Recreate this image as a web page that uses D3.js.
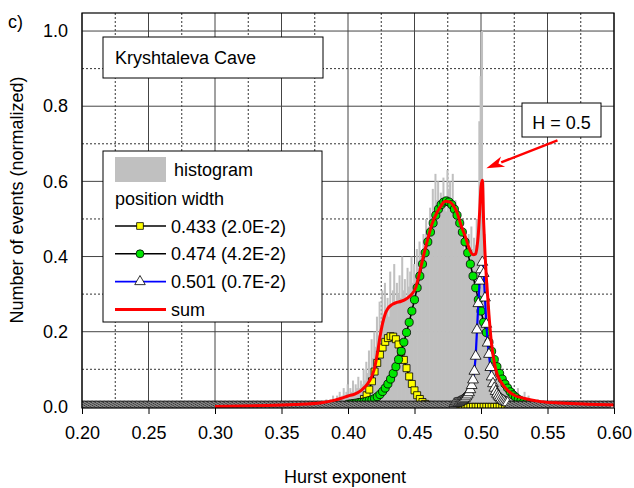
<!DOCTYPE html>
<html>
<head>
<meta charset="utf-8">
<script src="https://cdn.jsdelivr.net/npm/d3@7"></script>
<style>
  body { margin: 0; background: #fff; }
  text { font-family: "Liberation Sans", Arial, sans-serif; fill: #000; }
</style>
</head>
<body>
<div id="wrap"></div>
<script>
// histogram: bins of 0.001 starting at 0.380
const histStart = 0.380;
const histBin = 0.001;
const histValues = [
  0.01,0.00,0.01,0.02,0.01,0.01,0.02,0.01,0.03,0.02,
  0.02,0.03,0.02,0.04,0.02,0.03,0.05,0.03,0.04,0.06,
  0.03,0.05,0.04,0.07,0.04,0.06,0.05,0.08,0.05,0.07,
  0.06,0.10,0.07,0.12,0.09,0.15,0.10,0.18,0.13,0.20,
  0.16,0.24,0.19,0.28,0.21,0.31,0.22,0.33,0.25,0.29,
  0.24,0.36,0.27,0.31,0.38,0.28,0.33,0.30,0.35,0.29,
  0.40,0.31,0.34,0.29,0.37,0.32,0.36,0.40,0.33,0.38,
  0.35,0.42,0.37,0.44,0.40,0.38,0.46,0.42,0.50,0.45,
  0.48,0.53,0.47,0.58,0.52,0.62,0.55,0.60,0.51,0.57,
  0.54,0.61,0.56,0.52,0.63,0.58,0.60,0.54,0.62,0.50,
  0.55,0.48,0.52,0.46,0.50,0.44,0.47,0.41,0.45,0.43,
  0.46,0.40,0.48,0.42,0.45,0.43,0.50,0.47,0.76,0.88,
  1.00,0.60,0.46,0.38,0.33,0.27,0.22,0.18,0.15,0.12,
  0.10,0.09,0.07,0.08,0.06,0.05,0.06,0.04,0.05,0.07,
  0.04,0.06,0.03,0.05,0.03,0.04,0.02,0.05,0.03,0.02,
  0.03,0.02,0.04,0.02,0.02,0.03,0.01,0.02,0.01,0.02,
  0.01,0.01,0.02,0.01,0.01,0.00,0.01,0.01,0.00,0.01,
  0.00
];

// fitted peaks (zero outside the listed part of the fit range)
const fitRange = [0.200, 0.600];
const fitStep = 0.002;
const peak1Start = 0.400;
const peak1Values = [
  0.001,0.002,0.003,0.005,0.008,0.013,0.021,0.031,0.046,0.068,
  0.094,0.117,0.139,0.158,0.173,0.183,0.188,0.187,0.180,0.166,
  0.147,0.125,0.103,0.081,0.061,0.044,0.031,0.021,0.013,0.008,
  0.005,0.003,0.002,0.001
];
const peak2Start = 0.400;
const peak2Values = [
  0.007,0.008,0.009,0.010,0.011,0.012,0.013,0.015,0.017,0.019,
  0.022,0.027,0.033,0.041,0.050,0.061,0.074,0.089,0.107,0.126,
  0.148,0.172,0.198,0.225,0.255,0.285,0.317,0.348,0.380,0.410,
  0.439,0.465,0.489,0.510,0.526,0.538,0.545,0.548,0.545,0.538,
  0.526,0.510,0.489,0.465,0.439,0.410,0.380,0.348,0.317,0.285,
  0.255,0.225,0.198,0.172,0.148,0.126,0.107,0.089,0.074,0.061,
  0.050,0.040,0.032,0.026,0.020,0.016,0.012,0.009,0.007,0.005,
  0.004,0.003,0.002,0.001,0.001,0.001
];
const peak3Start = 0.480;
const peak3Step = 0.001;
const peak3Values = [
  0.008,0.009,0.010,0.011,0.013,0.015,0.017,0.020,0.023,0.027,
  0.032,0.038,0.046,0.057,0.072,0.095,0.135,0.205,0.275,0.335,
  0.365,0.385,0.355,0.290,0.220,0.170,0.140,0.105,0.080,0.062,
  0.050,0.041,0.034,0.029,0.025,0.021,0.018,0.016,0.014,0.012,
  0.011
];

// sum of the fit
const sumX = [0.300,0.330,0.360,0.380,0.390,0.395,0.400,0.405,0.410,0.413,
  0.416,0.418,0.420,0.422,0.424,0.426,0.428,0.430,0.433,0.436,
  0.440,0.444,0.448,0.451,0.453,0.455,0.457,0.460,0.463,0.467,
  0.470,0.473,0.476,0.479,0.482,0.485,0.488,0.491,0.494,0.496,
  0.497,0.498,0.499,0.500,0.501,0.502,0.503,0.504,0.505,0.506,
  0.508,0.510,0.512,0.515,0.520,0.525,0.532,0.545,0.560,0.580,0.600];
const sumY = [0.001,0.003,0.006,0.011,0.018,0.023,0.029,0.034,0.044,0.054,
  0.068,0.082,0.104,0.140,0.185,0.222,0.248,0.262,0.272,0.277,
  0.281,0.288,0.300,0.318,0.345,0.375,0.405,0.447,0.485,0.518,
  0.535,0.547,0.546,0.537,0.517,0.483,0.455,0.423,0.405,0.407,
  0.425,0.460,0.520,0.585,0.603,0.490,0.410,0.345,0.295,0.245,
  0.165,0.118,0.088,0.066,0.044,0.031,0.023,0.014,0.010,0.007,0.005];

const xMajor = [0.20,0.25,0.30,0.35,0.40,0.45,0.50,0.55,0.60];
const xMinor = [0.225,0.275,0.325,0.375,0.425,0.475,0.525,0.575];
const yMajor = [0.0,0.2,0.4,0.6,0.8,1.0];
const yMinor = [0.1,0.3,0.5,0.7,0.9];
const legendLabels = ["0.433 (2.0E-2)", "0.474 (4.2E-2)", "0.501 (0.7E-2)", "sum"];
const caveName = "Kryshtaleva Cave";
const arrowFrom = [0.5575, 0.709];
const arrowTo = [0.504, 0.635];

const width = 634;
const height = 488;
const plot = { left: 82, right: 614, top: 13, bottom: 408 };

const svg = d3.select("#wrap").append("svg")
  .attr("width", width)
  .attr("height", height);

const x = d3.scaleLinear().domain([0.2, 0.6]).range([plot.left, plot.right]);
const y = d3.scaleLinear().domain([-0.003, 1.048]).range([plot.bottom, plot.top]);

svg.append("clipPath").attr("id", "clip")
  .append("rect")
  .attr("x", plot.left).attr("y", plot.top)
  .attr("width", plot.right - plot.left).attr("height", plot.bottom - plot.top);

// grid
const grid = svg.append("g");
grid.selectAll(".vmin").data(xMinor).enter().append("line")
  .attr("x1", d => x(d)).attr("x2", d => x(d))
  .attr("y1", plot.top).attr("y2", plot.bottom)
  .attr("stroke", "#333").attr("stroke-width", 1).attr("stroke-dasharray", "2,2");
grid.selectAll(".hmin").data(yMinor).enter().append("line")
  .attr("x1", plot.left).attr("x2", plot.right)
  .attr("y1", d => y(d)).attr("y2", d => y(d))
  .attr("stroke", "#333").attr("stroke-width", 1).attr("stroke-dasharray", "2,2");
grid.selectAll(".vmaj").data(xMajor).enter().append("line")
  .attr("x1", d => x(d)).attr("x2", d => x(d))
  .attr("y1", plot.top).attr("y2", plot.bottom)
  .attr("stroke", "#444").attr("stroke-width", 1);
grid.selectAll(".hmaj").data(yMajor).enter().append("line")
  .attr("x1", plot.left).attr("x2", plot.right)
  .attr("y1", d => y(d)).attr("y2", d => y(d))
  .attr("stroke", "#444").attr("stroke-width", 1);

const area = svg.append("g").attr("clip-path", "url(#clip)");

// histogram
const barW = x(histBin) - x(0);
area.selectAll("rect.bar").data(histValues).enter().append("rect")
  .attr("class", "bar")
  .attr("fill", "#c0c0c0")
  .attr("x", (d, i) => x(histStart + i * histBin))
  .attr("width", barW + 0.7)
  .attr("y", d => y(d))
  .attr("height", d => y(0) - y(d));

// expand a peak over the whole fit range
function series(start, step, values) {
  const pts = [];
  const n = Math.round((fitRange[1] - fitRange[0]) / step);
  for (let k = 0; k <= n; k++) {
    const xv = fitRange[0] + k * step;
    const i = Math.round((xv - start) / step);
    pts.push([xv, i >= 0 && i < values.length ? values[i] : 0]);
  }
  return pts;
}
const s1 = series(peak1Start, fitStep, peak1Values);
const s2 = series(peak2Start, fitStep, peak2Values);
const s3 = series(peak3Start, peak3Step, peak3Values);

const line = d3.line().x(d => x(d[0])).y(d => y(d[1]));

function drawPeak(pts, lineColor, lineW, symbol, size, fill) {
  area.append("path").datum(pts)
    .attr("d", line).attr("fill", "none")
    .attr("stroke", lineColor).attr("stroke-width", lineW);
  area.append("g").selectAll("path").data(pts).enter().append("path")
    .attr("transform", d => `translate(${x(d[0])},${y(d[1])})`)
    .attr("d", d3.symbol().type(symbol).size(size))
    .attr("fill", fill).attr("stroke", "#000").attr("stroke-width", 0.8);
}
drawPeak(s1, "#000", 1.5, d3.symbolSquare, 49, "#ffff00");
drawPeak(s2, "#000", 1.5, d3.symbolCircle, 52, "#00e600");
drawPeak(s3, "#0000ff", 2.2, d3.symbolTriangle, 50, "#fff");

// sum
area.append("path").datum(sumX.map((d, i) => [d, sumY[i]]))
  .attr("d", line.curve(d3.curveMonotoneX)).attr("fill", "none")
  .attr("stroke", "#ff0000").attr("stroke-width", 3);

// frame and axes
svg.append("rect")
  .attr("x", plot.left).attr("y", plot.top)
  .attr("width", plot.right - plot.left).attr("height", plot.bottom - plot.top)
  .attr("fill", "none").attr("stroke", "#000").attr("stroke-width", 1.2);

const xAxis = d3.axisBottom(x).tickValues(xMajor).tickSize(6).tickPadding(12)
  .tickFormat(d3.format(".2f"));
const gx = svg.append("g").attr("transform", `translate(0,${plot.bottom})`).call(xAxis);
gx.select(".domain").remove();
gx.selectAll("text").attr("font-size", 18).style("font-family", "Liberation Sans, Arial, sans-serif").attr("fill", "#000");
gx.selectAll("line").attr("stroke", "#000");

const yAxis = d3.axisLeft(y).tickValues(yMajor).tickSize(0).tickPadding(14)
  .tickFormat(d3.format(".1f"));
const gy = svg.append("g").attr("transform", `translate(${plot.left},0)`).call(yAxis);
gy.select(".domain").remove();
gy.selectAll("text").attr("font-size", 18).style("font-family", "Liberation Sans, Arial, sans-serif").attr("fill", "#000");

svg.append("text").attr("x", (plot.left + plot.right) / 2 - 3).attr("y", 483)
  .attr("text-anchor", "middle").attr("font-size", 18).text("Hurst exponent");
svg.append("text")
  .attr("transform", "translate(23,200) rotate(-90)")
  .attr("text-anchor", "middle").attr("font-size", 18)
  .text("Number of events (normalized)");
svg.append("text").attr("x", 8).attr("y", 28).attr("font-size", 18).text("c)");

// site label
svg.append("rect").attr("x", 103).attr("y", 37).attr("width", 220).attr("height", 41)
  .attr("fill", "#fff").attr("stroke", "#000");
svg.append("text").attr("x", 115).attr("y", 64).attr("font-size", 18).text(caveName);

// legend
const lg = svg.append("g");
lg.append("rect").attr("x", 103).attr("y", 151).attr("width", 219).attr("height", 171)
  .attr("fill", "#fff").attr("stroke", "#000");
lg.append("rect").attr("x", 115).attr("y", 157).attr("width", 51).attr("height", 25).attr("fill", "#c0c0c0");
lg.append("text").attr("x", 174).attr("y", 176).attr("font-size", 18).text("histogram");
lg.append("text").attr("x", 115).attr("y", 205).attr("font-size", 18).text("position width");
const lgItems = [
  { color: "#000", symbol: d3.symbolSquare, size: 45, fill: "#ffff00", w: 1.5 },
  { color: "#000", symbol: d3.symbolCircle, size: 50, fill: "#00e600", w: 1.5 },
  { color: "#0000ff", symbol: d3.symbolTriangle, size: 48, fill: "#fff", w: 1.8 },
  { color: "#ff0000", symbol: null, w: 3 }
];
lgItems.forEach((it, i) => {
  const ly = 226 + i * 27.8;
  lg.append("line").attr("x1", 115).attr("x2", 166).attr("y1", ly).attr("y2", ly)
    .attr("stroke", it.color).attr("stroke-width", it.w);
  if (it.symbol) {
    lg.append("path").attr("transform", `translate(140,${ly})`)
      .attr("d", d3.symbol().type(it.symbol).size(it.size))
      .attr("fill", it.fill).attr("stroke", "#000").attr("stroke-width", 0.8);
  }
  lg.append("text").attr("x", 171).attr("y", ly + 6.5).attr("font-size", 18).text(legendLabels[i]);
});

// H = 0.5 annotation
svg.append("rect").attr("x", 522).attr("y", 103).attr("width", 79).attr("height", 34)
  .attr("fill", "#fff").attr("stroke", "#000");
svg.append("text").attr("x", 561.5).attr("y", 128.5).attr("text-anchor", "middle")
  .attr("font-size", 18).text("H = 0.5");
const ax0 = x(arrowFrom[0]), ay0 = y(arrowFrom[1]);
const ax1 = x(arrowTo[0]), ay1 = y(arrowTo[1]);
const len = Math.hypot(ax1 - ax0, ay1 - ay0);
const ux = (ax1 - ax0) / len, uy = (ay1 - ay0) / len;
const hl = 18, hw = 5.5;
const bx = ax1 - ux * hl, by = ay1 - uy * hl;
svg.append("line").attr("x1", ax0).attr("y1", ay0).attr("x2", bx + ux * 2).attr("y2", by + uy * 2)
  .attr("stroke", "#ff0000").attr("stroke-width", 2.5);
svg.append("path")
  .attr("d", `M${ax1},${ay1}L${bx - uy * hw},${by + ux * hw}L${bx + ux * 5},${by + uy * 5}L${bx + uy * hw},${by - ux * hw}Z`)
  .attr("fill", "#ff0000");
</script>
</body>
</html>
